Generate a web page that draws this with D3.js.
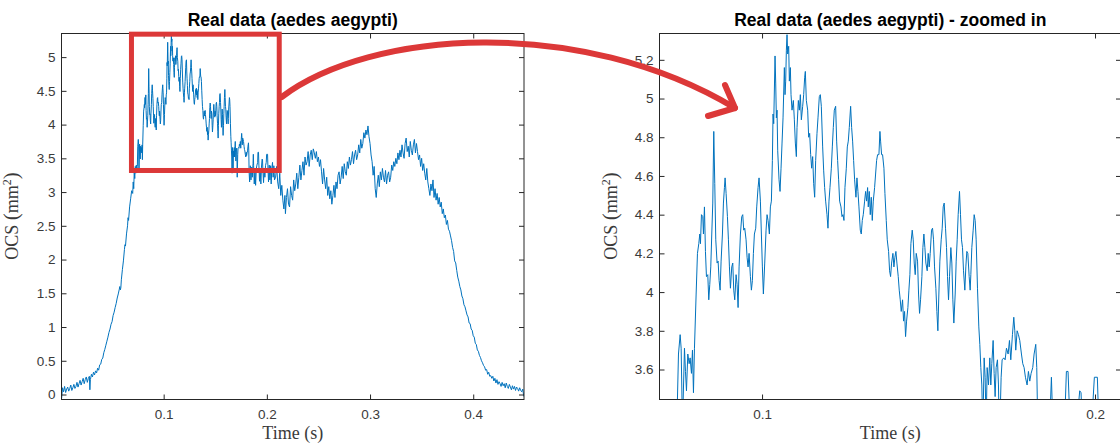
<!DOCTYPE html>
<html>
<head>
<meta charset="utf-8">
<script src="https://cdn.jsdelivr.net/npm/d3@7"></script>
<style>
  html, body { margin: 0; padding: 0; background: #ffffff; }
  svg { display: block; }
  .tick text { font-family: Arial, "Liberation Sans", Helvetica, sans-serif; font-size: 13.5px; fill: #3a3a3a; }
  .tick line { stroke: #262626; }
  .title { font-family: Arial, "Liberation Sans", Helvetica, sans-serif; font-weight: bold; font-size: 17.5px; fill: #000; }
  .axlabel { font-family: "Liberation Serif", "DejaVu Serif", serif; font-size: 18px; fill: #3a3a3a; }
</style>
</head>
<body>
<svg id="chart" width="1120" height="446"></svg>
<script>
// ---- recorded optical cross-section (OCS) trace, aedes aegypti ----
// rising edge
const timePre = [0.0011,0.002,0.003,0.004,0.005,0.006,0.007,0.008,0.009,0.010,
  0.011,0.012,0.013,0.014,0.015,0.016,0.017,0.018,0.019,0.020,
  0.021,0.022,0.023,0.024,0.025,0.026,0.027,0.028,0.0285,0.029,
  0.030,0.031,0.032,0.033,0.034,0.035,0.036,0.037,0.038,0.039,
  0.040,0.041,0.042,0.043,0.044,0.045,0.046,0.047,0.048,0.049,
  0.050,0.051,0.052,0.053,0.054,0.055,0.056,0.057,0.0575,0.058,
  0.0585,0.059,0.060,0.061,0.062,0.0625,0.063,0.064,0.065,0.0655,
  0.066,0.067,0.068,0.069,0.070,0.0705,0.071,0.0715,0.072,0.0725,
  0.073,0.0735,0.074];
const ocsPre = [-0.06,0.10,0.04,0.12,0.03,0.08,0.11,0.05,0.09,0.14,
  0.06,0.10,0.15,0.09,0.12,0.18,0.11,0.16,0.21,0.14,
  0.19,0.24,0.16,0.22,0.26,0.18,0.24,0.27,0.07,0.22,
  0.30,0.26,0.33,0.29,0.35,0.32,0.39,0.36,0.44,0.45,
  0.52,0.54,0.62,0.67,0.73,0.79,0.85,0.92,0.97,1.04,
  1.08,1.17,1.22,1.29,1.35,1.43,1.49,1.56,1.60,1.55,
  1.58,1.70,1.85,1.98,2.15,2.22,2.20,2.38,2.50,2.62,
  2.58,2.78,2.90,3.02,2.98,3.15,3.05,3.30,3.20,3.38,
  3.28,3.40,3.32];

// peak section (shown enlarged in the second panel)
const timePeak = [0.0745,0.0749,0.0754,0.0757,0.0761,0.0767,0.0770,0.0773,0.0777,0.0781,
  0.0784,0.0788,0.0791,0.0794,0.0797,0.0802,0.0806,0.0810,0.0813,0.0815,
  0.0818,0.0822,0.0824,0.0827,0.0830,0.0833,0.0837,0.0840,0.0843,0.0846,
  0.0849,0.0852,0.0855,0.0858,0.0861,0.0865,0.0868,0.0871,0.0874,0.0877,
  0.0881,0.0884,0.0887,0.0889,0.0892,0.0896,0.0899,0.0902,0.0905,0.0909,
  0.0912,0.0915,0.0918,0.0922,0.0925,0.0928,0.0931,0.0935,0.0939,0.0942,
  0.0945,0.0948,0.0952,0.0955,0.0958,0.0961,0.0965,0.0968,0.0971,0.0974,
  0.0977,0.0981,0.0984,0.0988,0.0991,0.0995,0.0998,0.1001,0.1004,0.1008,
  0.1012,0.1015,0.1018,0.1022,0.1025,0.1028,0.1031,0.1033,0.1035,0.1039,
  0.1041,0.1043,0.1045,0.1047,0.1051,0.1054,0.1057,0.1060,0.1063,0.1067,
  0.1069,0.1071,0.1073,0.1075,0.1077,0.1080,0.1082,0.1085,0.1087,0.1090,
  0.1094,0.1097,0.1100,0.1103,0.1105,0.1109,0.1112,0.1115,0.1118,0.1122,
  0.1125,0.1128,0.1130,0.1133,0.1137,0.1140,0.1143,0.1146,0.1149,0.1152,
  0.1155,0.1158,0.1161,0.1165,0.1168,0.1172,0.1175,0.1178,0.1182,0.1185,
  0.1188,0.1191,0.1195,0.1198,0.1201,0.1204,0.1208,0.1211,0.1214,0.1217,
  0.1221,0.1224,0.1227,0.1230,0.1233,0.1237,0.1240,0.1243,0.1246,0.1249,
  0.1253,0.1256,0.1259,0.1262,0.1266,0.1269,0.1272,0.1275,0.1278,0.1282,
  0.1285,0.1288,0.1291,0.1295,0.1298,0.1301,0.1304,0.1308,0.1311,0.1314,
  0.1317,0.1319,0.1322,0.1325,0.1328,0.1331,0.1334,0.1338,0.1341,0.1344,
  0.1347,0.1351,0.1354,0.1356,0.1359,0.1362,0.1366,0.1369,0.1373,0.1376,
  0.1380,0.1383,0.1386,0.1389,0.1393,0.1396,0.1399,0.1402,0.1405,0.1409,
  0.1412,0.1415,0.1418,0.1422,0.1425,0.1428,0.1431,0.1434,0.1438,0.1441,
  0.1444,0.1447,0.1451,0.1454,0.1457,0.1460,0.1463,0.1467,0.1470,0.1473,
  0.1476,0.1480,0.1483,0.1486,0.1489,0.1492,0.1496,0.1499,0.1502,0.1505,
  0.1509,0.1512,0.1515,0.1518,0.1522,0.1525,0.1528,0.1531,0.1534,0.1538,
  0.1541,0.1544,0.1547,0.1551,0.1554,0.1557,0.1560,0.1563,0.1567,0.1570,
  0.1573,0.1576,0.1580,0.1583,0.1586,0.1589,0.1593,0.1596,0.1599,0.1602,
  0.1605,0.1609,0.1612,0.1615,0.1618,0.1622,0.1625,0.1627,0.1630,0.1634,
  0.1637,0.1640,0.1643,0.1647,0.1651,0.1654,0.1657,0.1660,0.1663,0.1667,
  0.1670,0.1673,0.1676,0.1680,0.1684,0.1687,0.1690,0.1694,0.1697,0.1700,
  0.1703,0.1707,0.1710,0.1713,0.1718,0.1721,0.1726,0.1730,0.1734,0.1739,
  0.1743,0.1747,0.1752,0.1756,0.1759,0.1762,0.1766,0.1770,0.1774,0.1779,
  0.1783,0.1787,0.1791,0.1796,0.1800,0.1804,0.1808,0.1813,0.1817,0.1822,
  0.1825,0.1828,0.1833,0.1840,0.1846,0.1853,0.1859,0.1866,0.1869,0.1872,
  0.1878,0.1885,0.1891,0.1898,0.1904,0.1911,0.1914,0.1919,0.1923,0.1929,
  0.1935,0.1942,0.1948,0.1954,0.1958,0.1961,0.1968,0.1974,0.1981,0.1987,
  0.1994,0.1998,0.2007,0.2010,0.2016,0.2023,0.2029,0.2036,0.2042,0.2048,
  0.2055,0.2061,0.2068,0.2074];
const ocsPeak = [3.38,3.68,3.78,3.71,3.30,3.71,3.59,3.49,3.68,3.63,
  3.66,3.58,3.70,3.48,3.71,3.99,4.20,4.25,4.30,4.25,
  4.40,4.39,4.30,4.44,4.21,4.08,4.09,3.96,4.04,4.13,
  4.30,4.46,4.83,4.56,4.27,4.15,4.16,4.06,4.01,4.16,
  4.30,4.46,4.54,4.59,4.51,4.39,4.27,4.13,4.02,4.13,
  4.15,4.01,3.96,4.09,4.04,3.92,4.13,4.30,4.39,4.40,
  4.32,4.33,4.27,4.18,4.13,4.20,4.08,4.01,4.06,4.20,
  4.30,4.33,4.44,4.54,4.59,4.47,4.30,4.13,3.99,4.15,
  4.32,4.40,4.37,4.30,4.44,4.47,4.68,4.92,4.87,5.22,
  5.08,4.90,4.94,4.73,4.58,4.52,4.64,4.77,4.90,5.16,
  5.02,5.09,5.25,5.33,5.23,5.27,5.09,5.16,5.02,4.94,
  4.99,4.89,4.77,4.70,4.85,4.99,4.94,5.02,4.89,4.96,
  5.02,5.11,5.14,4.99,4.94,4.80,4.82,4.71,4.64,4.70,
  4.56,4.49,4.68,4.82,4.90,5.01,5.02,4.96,4.75,4.63,
  4.54,4.47,4.40,4.33,4.47,4.54,4.64,4.75,4.85,4.94,
  4.96,4.78,4.68,4.58,4.47,4.44,4.39,4.40,4.37,4.54,
  4.64,4.75,4.78,4.85,4.96,4.85,4.78,4.68,4.58,4.49,
  4.59,4.52,4.44,4.32,4.30,4.37,4.40,4.47,4.52,4.47,
  4.54,4.44,4.52,4.40,4.49,4.37,4.47,4.54,4.61,4.68,
  4.71,4.71,4.83,4.78,4.71,4.71,4.64,4.51,4.37,4.27,
  4.21,4.11,4.08,4.15,4.20,4.13,4.18,4.21,4.15,4.08,
  4.01,3.96,3.90,3.96,3.85,3.90,3.77,3.85,3.92,4.01,
  4.09,4.25,4.32,4.27,4.15,4.09,4.20,4.16,3.99,3.89,
  3.96,4.08,4.23,4.30,4.23,4.15,4.11,4.20,4.13,4.20,
  4.32,4.33,4.27,4.13,4.02,3.90,3.80,3.99,4.16,4.27,
  4.33,4.44,4.46,4.33,4.23,4.08,3.96,4.08,4.23,4.15,
  3.96,3.84,3.99,4.16,4.27,4.40,4.52,4.40,4.27,4.23,
  4.11,4.01,4.13,4.21,4.20,4.08,4.01,4.09,4.23,4.32,
  4.40,4.37,4.27,4.02,3.82,3.73,3.61,3.52,3.28,3.66,
  3.56,3.30,3.61,3.52,3.66,3.52,3.63,3.75,3.58,3.46,
  3.61,3.65,3.52,3.22,3.56,3.65,3.66,3.65,3.71,3.68,
  3.75,3.65,3.78,3.87,3.80,3.70,3.80,3.78,3.75,3.68,
  3.63,3.61,3.56,3.52,3.59,3.54,3.58,3.61,3.68,3.73,
  3.61,3.30,3.15,3.39,3.18,3.37,3.22,3.42,3.56,3.39,
  3.12,3.33,3.10,3.35,3.40,3.44,3.59,3.59,3.40,3.16,
  3.35,3.12,3.37,3.49,3.48,3.35,3.14,3.35,3.22,3.39,
  3.44,3.56,3.56,3.39,3.15,3.40,3.18,3.39,3.12,3.35,
  3.44,3.22,3.39,3.18];

// plateau and falling edge
const timePost = [0.2085,0.2095,0.2105,0.2115,0.2125,0.2135,0.2145,0.2155,0.2165,0.2175,
  0.218,0.219,0.220,0.221,0.222,0.223,0.224,0.225,0.226,0.227,
  0.228,0.229,0.230,0.231,0.232,0.233,0.234,0.235,0.236,0.237,
  0.238,0.239,0.240,0.241,0.242,0.243,0.244,0.245,0.246,0.247,
  0.248,0.249,0.250,0.251,0.252,0.253,0.254,0.255,0.256,0.257,
  0.258,0.259,0.260,0.261,0.262,0.263,0.264,0.265,0.266,0.267,
  0.268,0.269,0.270,0.271,0.272,0.273,0.274,0.275,0.276,0.277,
  0.278,0.279,0.280,0.281,0.282,0.283,0.284,0.285,0.286,0.287,
  0.288,0.289,0.290,0.291,0.292,0.293,0.294,0.295,0.296,0.297,
  0.298,0.299,0.300,0.301,0.302,0.303,0.304,0.305,0.306,0.307,
  0.308,0.309,0.310,0.311,0.312,0.313,0.314,0.315,0.316,0.317,
  0.318,0.319,0.320,0.321,0.322,0.323,0.324,0.325,0.326,0.327,
  0.328,0.329,0.330,0.331,0.332,0.333,0.334,0.335,0.336,0.337,
  0.338,0.339,0.340,0.341,0.342,0.343,0.344,0.345,0.346,0.347,
  0.348,0.349,0.350,0.351,0.352,0.353,0.354,0.355,0.356,0.357,
  0.358,0.359,0.360,0.361,0.362,0.363,0.364,0.365,0.366,0.367,
  0.368,0.369,0.370,0.371,0.372,0.373,0.374,0.375,0.376,0.377,
  0.378,0.379,0.380,0.381,0.382,0.383,0.384,0.385,0.386,0.387,
  0.388,0.389,0.390,0.391,0.392,0.393,0.394,0.395,0.396,0.397,
  0.398,0.399,0.400,0.401,0.402,0.403,0.404,0.405,0.406,0.407,
  0.408,0.409,0.410,0.411,0.412,0.413,0.414,0.415,0.416,0.417,
  0.418,0.419,0.420,0.421,0.422,0.423,0.424,0.425,0.426,0.427,
  0.428,0.429,0.430,0.431,0.432,0.433,0.434,0.435,0.436,0.437,
  0.438,0.439,0.440,0.441,0.442,0.443,0.444,0.445,0.446,0.447,
  0.448,0.449];
const ocsPost = [3.22,3.38,3.15,3.05,3.28,2.95,3.10,2.88,2.75,2.95,
  2.68,2.92,3.05,2.82,2.78,3.08,2.95,2.88,3.18,3.02,
  3.12,3.28,3.05,3.22,3.40,3.18,3.32,3.45,3.25,3.52,
  3.40,3.45,3.60,3.38,3.55,3.62,3.48,3.64,3.58,3.50,
  3.60,3.45,3.52,3.38,3.48,3.30,3.12,3.35,3.18,3.05,
  3.22,2.95,3.08,2.90,3.02,2.82,2.95,3.10,2.92,3.15,
  3.05,3.25,3.30,3.12,3.22,3.38,3.20,3.42,3.30,3.25,
  3.45,3.35,3.52,3.40,3.48,3.60,3.42,3.55,3.62,3.48,
  3.55,3.70,3.58,3.78,3.65,3.72,3.88,3.80,3.92,3.85,
  3.98,3.82,3.72,3.55,3.45,3.25,3.38,3.05,2.92,3.12,
  3.25,3.08,3.30,3.18,3.35,3.22,3.15,3.32,3.12,3.25,
  3.30,3.15,3.22,3.40,3.32,3.45,3.38,3.50,3.42,3.58,
  3.48,3.62,3.52,3.70,3.58,3.50,3.72,3.80,3.60,3.68,
  3.52,3.75,3.62,3.55,3.70,3.78,3.58,3.72,3.60,3.48,
  3.55,3.38,3.50,3.32,3.42,3.28,3.18,3.35,3.15,3.05,
  2.95,3.12,3.02,3.18,2.92,3.05,2.88,2.98,2.82,2.92,
  2.78,2.85,2.68,2.75,2.62,2.66,2.52,2.58,2.45,2.42,
  2.35,2.28,2.18,2.12,1.98,1.95,1.84,1.74,1.68,1.60,
  1.55,1.46,1.42,1.33,1.30,1.24,1.18,1.15,1.06,1.05,
  0.97,0.95,0.87,0.85,0.76,0.74,0.66,0.64,0.58,0.55,
  0.50,0.47,0.43,0.41,0.36,0.37,0.30,0.33,0.27,0.28,
  0.24,0.27,0.20,0.24,0.17,0.22,0.15,0.19,0.16,0.12,
  0.18,0.13,0.16,0.10,0.17,0.12,0.09,0.15,0.11,0.07,
  0.13,0.08,0.12,0.06,0.11,0.09,0.05,0.10,0.06,0.04,
  0.08,-0.03];

// axis ticks and text
const xTicksFull = [0.1, 0.2, 0.3, 0.4];
const yTicksFull = [0, 0.5, 1, 1.5, 2, 2.5, 3, 3.5, 4, 4.5, 5];
const xTicksZoom = [0.1, 0.2];
const yTicksZoom = [3.6, 3.8, 4, 4.2, 4.4, 4.6, 4.8, 5, 5.2];
const titleFull = "Real data (aedes aegypti)";
const titleZoom = "Real data (aedes aegypti) - zoomed in";
// region of the full trace that the second panel enlarges
const zoomTime = [0.0688, 0.212];
const zoomOcs = [3.32, 5.34];

function zipSeries(t, v) {
  const n = Math.min(t.length, v.length);
  const out = [];
  for (let i = 0; i < n; i++) out.push({ t: t[i], v: v[i] });
  return out;
}
const series = zipSeries(timePre, ocsPre)
  .concat(zipSeries(timePeak, ocsPeak))
  .concat(zipSeries(timePost, ocsPost));

const svg = d3.select("#chart");
const axisColor = "#262626";
const lineColor = "#0072BD";
const red = "#dc3838";

const panels = [
  { id: "full", x0: 61.5, x1: 524, y0: 33.5, y1: 399.5,
    xDom: [0.001, 0.4492], yDom: [-0.074, 5.35],
    xTicks: xTicksFull, yTicks: yTicksFull, title: titleFull, ylabX: 18 },
  { id: "zoom", x0: 659.5, x1: 1121, y0: 33.5, y1: 399.5,
    xDom: [0.0692, 0.2078], yDom: [3.445, 5.336],
    xTicks: xTicksZoom, yTicks: yTicksZoom, title: titleZoom, ylabX: 617 }
];

const defs = svg.append("defs");

panels.forEach(p => {
  const x = d3.scaleLinear().domain(p.xDom).range([p.x0, p.x1]);
  const y = d3.scaleLinear().domain(p.yDom).range([p.y1, p.y0]);
  p.x = x; p.y = y;

  defs.append("clipPath").attr("id", "clip-" + p.id)
    .append("rect")
    .attr("x", p.x0).attr("y", p.y0)
    .attr("width", p.x1 - p.x0).attr("height", p.y1 - p.y0);

  const g = svg.append("g").attr("class", "panel-" + p.id);

  // trace
  const line = d3.line().x(d => x(d.t)).y(d => y(d.v));
  g.append("path")
    .datum(series)
    .attr("clip-path", "url(#clip-" + p.id + ")")
    .attr("fill", "none")
    .attr("stroke", lineColor)
    .attr("stroke-width", 1)
    .attr("stroke-linejoin", "round")
    .attr("d", line);

  // axes: ticks point inward on all four sides
  const fmt = d => String(d);
  const bottom = g.append("g").attr("transform", `translate(0,${p.y1})`)
    .call(d3.axisBottom(x).tickValues(p.xTicks).tickFormat(fmt).tickSize(-5).tickPadding(10));
  const top = g.append("g").attr("transform", `translate(0,${p.y0})`)
    .call(d3.axisTop(x).tickValues(p.xTicks).tickFormat("").tickSize(-5));
  const left = g.append("g").attr("transform", `translate(${p.x0},0)`)
    .call(d3.axisLeft(y).tickValues(p.yTicks).tickFormat(fmt).tickSize(-5).tickPadding(6));
  const right = g.append("g").attr("transform", `translate(${p.x1},0)`)
    .call(d3.axisRight(y).tickValues(p.yTicks).tickFormat("").tickSize(-5));
  [bottom, top, left, right].forEach(a => {
    a.select(".domain").remove();
    a.attr("font-family", null).attr("font-size", null);
    a.selectAll(".tick line").attr("stroke", axisColor);
  });

  // axes box
  g.append("rect")
    .attr("x", p.x0).attr("y", p.y0)
    .attr("width", p.x1 - p.x0).attr("height", p.y1 - p.y0)
    .attr("fill", "none").attr("stroke", axisColor).attr("stroke-width", 1);

  // title
  g.append("text").attr("class", "title")
    .attr("x", (p.x0 + p.x1) / 2).attr("y", 26)
    .attr("text-anchor", "middle").text(p.title);

  // x label
  g.append("text").attr("class", "axlabel")
    .attr("x", (p.x0 + p.x1) / 2).attr("y", 439)
    .attr("text-anchor", "middle").text("Time (s)");

  // y label
  const yl = g.append("text").attr("class", "axlabel")
    .attr("transform", `translate(${p.ylabX},216) rotate(-90)`)
    .attr("text-anchor", "middle");
  yl.append("tspan").text("OCS ");
  yl.append("tspan").attr("font-size", "21px").text("(");
  yl.append("tspan").text("mm");
  yl.append("tspan").attr("font-size", "12px").attr("dy", "-7").text("2");
  yl.append("tspan").attr("font-size", "21px").attr("dy", "7").text(")");
});

// highlighted region on the full trace
const pf = panels[0];
svg.append("rect")
  .attr("x", pf.x(zoomTime[0])).attr("y", pf.y(zoomOcs[1]))
  .attr("width", pf.x(zoomTime[1]) - pf.x(zoomTime[0]))
  .attr("height", pf.y(zoomOcs[0]) - pf.y(zoomOcs[1]))
  .attr("fill", "none").attr("stroke", red).attr("stroke-width", 5);

// curved arrow from the highlighted region to the enlarged panel
const startX = pf.x(zoomTime[1]) + 2.5, startY = 97;
const tip = [735, 108];
svg.append("path")
  .attr("d", `M${startX},${startY} C370,30 580,15 ${tip[0]},${tip[1]}`)
  .attr("fill", "none").attr("stroke", red).attr("stroke-width", 6)
  .attr("stroke-linecap", "round");
svg.append("path")
  .attr("d", `M725,85 L${tip[0]},${tip[1]} L708,116`)
  .attr("fill", "none").attr("stroke", red).attr("stroke-width", 6)
  .attr("stroke-linecap", "round").attr("stroke-linejoin", "round");
</script>
</body>
</html>
